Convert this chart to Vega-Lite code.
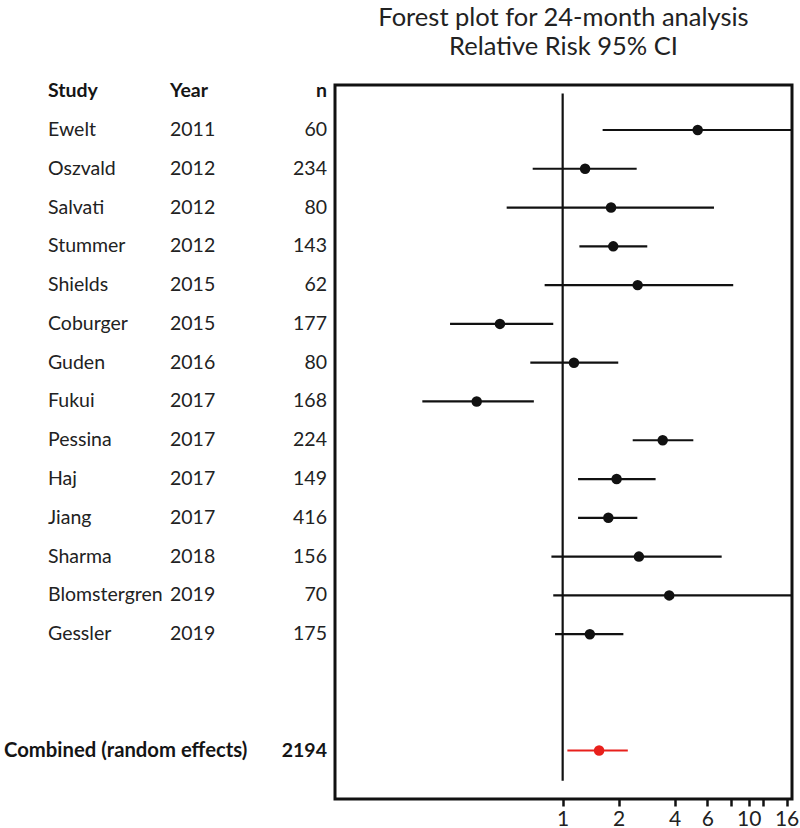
{
  "$schema": "https://vega.github.io/schema/vega-lite/v6.json",
  "padding": {"left": 4, "right": 4, "top": 4, "bottom": 2},
  "bounds": "flush",
  "spacing": 8,
  "config": {"view": {"stroke": null}, "font": "Lato"},
  "datasets": {
    "studies": [
      {"study": "Ewelt", "year": "2011", "n": "60", "rr": 5.32, "lo": 1.64, "hi": 20, "row": 1, "kind": "study"},
      {"study": "Oszvald", "year": "2012", "n": "234", "rr": 1.32, "lo": 0.69, "hi": 2.5, "row": 2, "kind": "study"},
      {"study": "Salvati", "year": "2012", "n": "80", "rr": 1.82, "lo": 0.5, "hi": 6.51, "row": 3, "kind": "study"},
      {"study": "Stummer", "year": "2012", "n": "143", "rr": 1.87, "lo": 1.23, "hi": 2.85, "row": 4, "kind": "study"},
      {"study": "Shields", "year": "2015", "n": "62", "rr": 2.53, "lo": 0.8, "hi": 8.26, "row": 5, "kind": "study"},
      {"study": "Coburger", "year": "2015", "n": "177", "rr": 0.46, "lo": 0.248, "hi": 0.89, "row": 6, "kind": "study"},
      {"study": "Guden", "year": "2016", "n": "80", "rr": 1.15, "lo": 0.67, "hi": 1.99, "row": 7, "kind": "study"},
      {"study": "Fukui", "year": "2017", "n": "168", "rr": 0.345, "lo": 0.176, "hi": 0.7, "row": 8, "kind": "study"},
      {"study": "Pessina", "year": "2017", "n": "224", "rr": 3.45, "lo": 2.38, "hi": 5.04, "row": 9, "kind": "study"},
      {"study": "Haj", "year": "2017", "n": "149", "rr": 1.95, "lo": 1.21, "hi": 3.16, "row": 10, "kind": "study"},
      {"study": "Jiang", "year": "2017", "n": "416", "rr": 1.76, "lo": 1.21, "hi": 2.52, "row": 11, "kind": "study"},
      {"study": "Sharma", "year": "2018", "n": "156", "rr": 2.57, "lo": 0.87, "hi": 7.16, "row": 12, "kind": "study"},
      {"study": "Blomstergren", "year": "2019", "n": "70", "rr": 3.74, "lo": 0.89, "hi": 20, "row": 13, "kind": "study"},
      {"study": "Gessler", "year": "2019", "n": "175", "rr": 1.4, "lo": 0.91, "hi": 2.12, "row": 14, "kind": "study"},
      {"study": "Combined (random effects)", "year": "", "n": "2194", "rr": 1.57, "lo": 1.06, "hi": 2.24, "row": 17, "kind": "combined"}
    ]
  },
  "hconcat": [
    {
      "width": 36,
      "height": 714,
      "data": {"name": "studies"},
      "transform": [{"filter": "datum.kind === 'combined'"}],
      "mark": {"type": "text", "align": "left", "baseline": "middle", "fontSize": 20.3, "fontWeight": "bold", "color": "#151515"},
      "encoding": {
        "x": {"datum": "Combined", "type": "nominal", "scale": {"type": "point", "domain": ["Combined"], "padding": 0, "align": 0}, "axis": null},
        "y": {"field": "row", "type": "quantitative", "scale": {"domain": [-0.16, 18.25], "reverse": true, "nice": false, "zero": false}, "axis": null},
        "text": {"field": "study", "type": "nominal"}
      }
    },
    {
      "width": 114,
      "height": 714,
      "encoding": {
        "x": {"datum": "Study", "type": "nominal", "scale": {"type": "point", "domain": ["Study"], "padding": 0, "align": 0}, "axis": null}
      },
      "layer": [
        {
          "data": {"values": [{"label": "Study", "row": 0}]},
          "mark": {"type": "text", "align": "left", "baseline": "middle", "fontSize": 19.5, "fontWeight": "bold", "color": "#151515"},
          "encoding": {
            "y": {"field": "row", "type": "quantitative", "scale": {"domain": [-0.16, 18.25], "reverse": true, "nice": false, "zero": false}, "axis": null},
            "text": {"field": "label", "type": "nominal"}
          }
        },
        {
          "data": {"name": "studies"},
          "transform": [{"filter": "datum.kind === 'study'"}],
          "mark": {"type": "text", "align": "left", "baseline": "middle", "fontSize": 19.5, "color": "#222222"},
          "encoding": {
            "y": {"field": "row", "type": "quantitative", "axis": null},
            "text": {"field": "study", "type": "nominal"}
          }
        }
      ]
    },
    {
      "width": 157,
      "height": 714,
      "layer": [
        {
          "data": {"values": [{"label": "Year", "col": "Year", "row": 0}]},
          "mark": {"type": "text", "align": "left", "baseline": "middle", "fontSize": 19.5, "fontWeight": "bold", "color": "#151515"},
          "encoding": {
            "x": {"field": "col", "type": "nominal", "scale": {"type": "point", "domain": ["Year", "n"], "padding": 0}, "axis": null},
            "y": {"field": "row", "type": "quantitative", "scale": {"domain": [-0.16, 18.25], "reverse": true, "nice": false, "zero": false}, "axis": null},
            "text": {"field": "label", "type": "nominal"}
          }
        },
        {
          "data": {"values": [{"label": "n", "col": "n", "row": 0}]},
          "mark": {"type": "text", "align": "right", "baseline": "middle", "fontSize": 19.5, "fontWeight": "bold", "color": "#151515"},
          "encoding": {
            "x": {"field": "col", "type": "nominal", "axis": null},
            "y": {"field": "row", "type": "quantitative", "axis": null},
            "text": {"field": "label", "type": "nominal"}
          }
        },
        {
          "data": {"name": "studies"},
          "transform": [{"filter": "datum.kind === 'study'"}],
          "mark": {"type": "text", "align": "left", "baseline": "middle", "fontSize": 19.5, "color": "#222222"},
          "encoding": {
            "x": {"datum": "Year", "type": "nominal", "axis": null},
            "y": {"field": "row", "type": "quantitative", "axis": null},
            "text": {"field": "year", "type": "nominal"}
          }
        },
        {
          "data": {"name": "studies"},
          "transform": [{"filter": "datum.kind === 'study'"}],
          "mark": {"type": "text", "align": "right", "baseline": "middle", "fontSize": 19.5, "color": "#222222"},
          "encoding": {
            "x": {"datum": "n", "type": "nominal", "axis": null},
            "y": {"field": "row", "type": "quantitative", "axis": null},
            "text": {"field": "n", "type": "nominal"}
          }
        },
        {
          "data": {"name": "studies"},
          "transform": [{"filter": "datum.kind === 'combined'"}],
          "mark": {"type": "text", "align": "right", "baseline": "middle", "fontSize": 19.5, "fontWeight": "bold", "color": "#151515"},
          "encoding": {
            "x": {"datum": "n", "type": "nominal", "axis": null},
            "y": {"field": "row", "type": "quantitative", "axis": null},
            "text": {"field": "n", "type": "nominal"}
          }
        }
      ]
    },
    {
      "width": 457,
      "height": 714,
      "view": {"stroke": "#111111", "strokeWidth": 3},
      "title": {
        "text": ["Forest plot for 24-month analysis", "Relative Risk 95% CI"],
        "fontSize": 25.5,
        "fontWeight": "normal",
        "lineHeight": 29,
        "offset": 25,
        "color": "#222222",
        "anchor": "middle"
      },
      "layer": [
        {
          "data": {"values": [{}]},
          "mark": {"type": "rule", "strokeWidth": 2.2, "color": "#111111"},
          "encoding": {
            "x": {"datum": 1, "type": "quantitative"},
            "y": {"datum": 0.06, "type": "quantitative"},
            "y2": {"datum": 17.78}
          }
        },
        {
          "data": {"name": "studies"},
          "mark": {"type": "rule", "strokeWidth": 2.2, "clip": true},
          "encoding": {
            "x": {"field": "lo", "type": "quantitative"},
            "x2": {"field": "hi"},
            "y": {"field": "row", "type": "quantitative"},
            "color": {"field": "kind", "type": "nominal", "scale": {"domain": ["study", "combined"], "range": ["#111111", "#e8201c"]}, "legend": null}
          }
        },
        {
          "data": {"name": "studies"},
          "mark": {"type": "circle", "size": 110, "opacity": 1},
          "encoding": {
            "x": {"field": "rr", "type": "quantitative"},
            "y": {"field": "row", "type": "quantitative"},
            "color": {"field": "kind", "type": "nominal", "legend": null}
          }
        }
      ],
      "encoding": {
        "x": {
          "type": "quantitative",
          "scale": {"type": "log", "domain": [0.0597, 17.1], "nice": false},
          "axis": {
            "orient": "bottom",
            "values": [1, 2, 4, 6, 8, 10, 12, 16],
            "labelExpr": "datum.value == 8 || datum.value == 12 ? '' : datum.label",
            "title": null,
            "grid": false,
            "domain": false,
            "tickSize": 7,
            "tickWidth": 2.5,
            "tickColor": "#111111",
            "labelFontSize": 21,
            "labelColor": "#222222",
            "labelPadding": 2,
            "labelFlush": false
          }
        },
        "y": {
          "type": "quantitative",
          "scale": {"domain": [-0.16, 18.25], "reverse": true, "nice": false, "zero": false},
          "axis": null
        }
      }
    }
  ]
}
